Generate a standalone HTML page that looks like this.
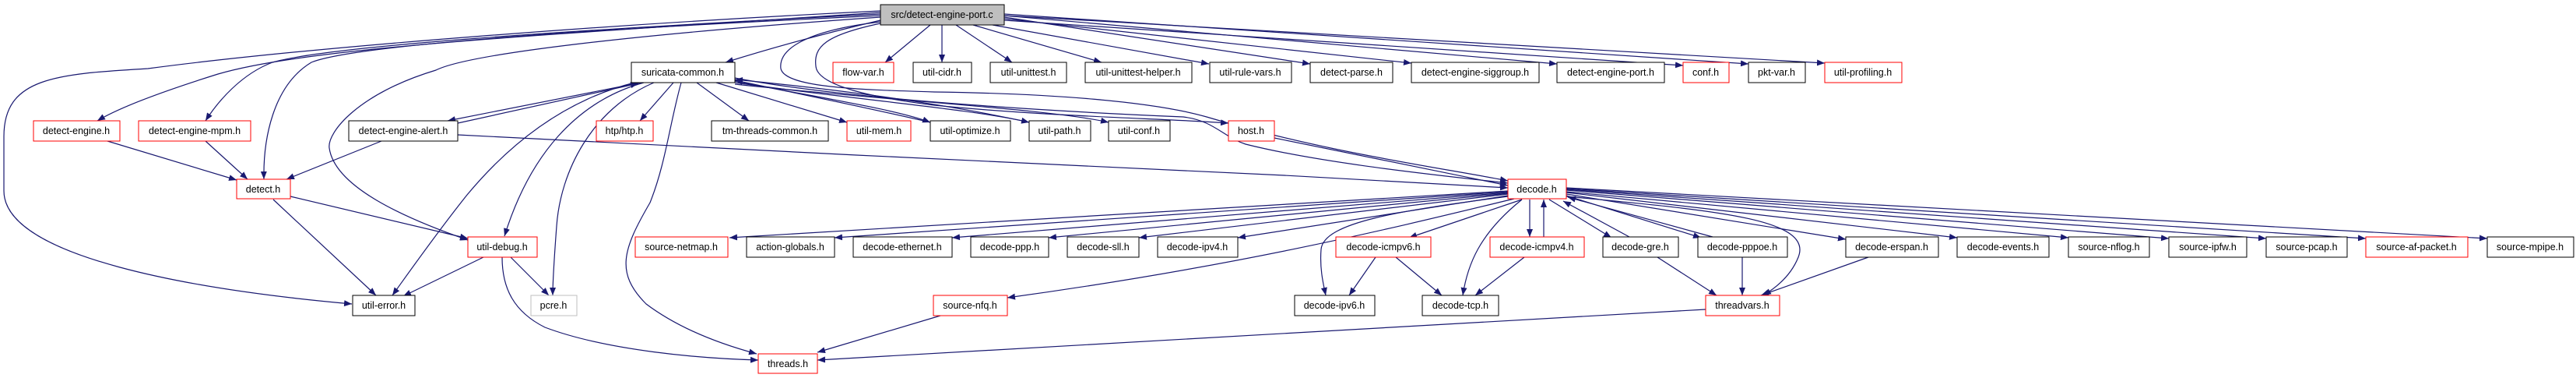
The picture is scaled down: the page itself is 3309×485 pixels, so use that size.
<!DOCTYPE html>
<html><head><meta charset="utf-8"><style>
html,body{margin:0;padding:0;background:#fff;}
svg{display:block;}
text{font-family:"Liberation Sans",Arial,sans-serif;font-size:12.5px;fill:#000;text-anchor:middle;}
.e{fill:none;stroke:#191970;stroke-width:1.2;}
.b{fill:#fff;stroke:#000;stroke-width:1;}
.r{fill:#fff;stroke:#ff0000;stroke-width:1;}
</style></head><body>
<svg width="3309" height="485" viewBox="0 0 3309 485" xmlns="http://www.w3.org/2000/svg">
<defs><marker id="a" markerUnits="userSpaceOnUse" markerWidth="11" markerHeight="8" refX="10" refY="4" orient="auto"><path d="M0,0 L10,4 L0,8 z" fill="#191970"/></marker></defs>
<g class="e" marker-end="url(#a)">
<!-- from src -->
<path d="M1131,14 C800,30 400,60 190,88 C70,95 5,100 5,175 L5,245 C5,330 250,372 452,390"/>
<path d="M1131,16 C700,45 400,60 280,95 C200,120 150,140 125,155"/>
<path d="M1131,18 C700,40 420,60 350,80 C310,95 280,130 264,155"/>
<path d="M1131,20 C700,40 450,60 400,80 C350,110 338,180 339,230"/>
<path d="M1131,22 C800,45 600,70 560,90 C460,120 420,170 423,190 C430,240 520,280 601,308"/>
<path d="M1131,26 C1050,45 980,65 932,80"/>
<path d="M1131,28 C1030,40 1000,65 1003,88 C1008,112 1100,115 1200,118 C1350,120 1480,130 1550,150 C1700,195 1850,215 1937,232"/>
<path d="M1131,30 C1060,45 1045,60 1048,85 C1050,110 1120,125 1200,135 C1350,150 1500,152 1578,158"/>
<path d="M1195,32 L1137,80"/>
<path d="M1210,32 L1210,80"/>
<path d="M1228,32 L1300,80"/>
<path d="M1250,32 L1415,80"/>
<path d="M1275,32 L1553,82"/>
<path d="M1290,22 L1683,82"/>
<path d="M1290,24 L1813,81"/>
<path d="M1290,20 L2000,82"/>
<path d="M1290,26 L2162,84"/>
<path d="M1290,18 L2246,82"/>
<path d="M1290,20 L2344,81"/>
<!-- suricata-common -->
<path d="M823,106 L575,155"/>
<path d="M588,158 L820,107"/>
<path d="M827,106 C740,130 680,200 648,303"/>
<path d="M815,106 C720,130 650,190 600,250 C560,300 525,350 504,379"/>
<path d="M840,106 C760,140 720,220 715,290 C712,330 710,360 710,379"/>
<path d="M875,106 C860,160 855,210 835,260 C800,320 790,350 830,390 C870,420 920,440 972,454"/>
<path d="M865,106 L822,155"/>
<path d="M895,106 L962,155"/>
<path d="M920,106 L1088,157"/>
<path d="M944,104 C1050,125 1150,140 1195,157"/>
<path d="M944,106 C1100,128 1250,140 1322,157"/>
<path d="M944,108 C1150,130 1350,140 1424,157"/>
<path d="M1195,157 C1100,135 1000,115 944,103"/>
<path d="M1322,157 C1200,130 1050,112 944,102"/>
<path d="M944,100 C1100,130 1400,145 1520,150 C1560,155 1570,175 1600,185 C1700,210 1850,225 1937,235"/>
<path d="M1637,177 L1937,238"/>
<path d="M588,173 L1100,199 L1650,225 L1937,241"/>
<!-- detect -->
<path d="M138,181 L304,231"/>
<path d="M264,181 L318,230"/>
<path d="M490,181 L368,230"/>
<path d="M351,256 L483,379"/>
<path d="M373,252 L601,306"/>
<path d="M621,330 L518,380"/>
<path d="M656,330 L705,379"/>
<path d="M645,330 C645,370 660,400 700,420 C780,450 900,460 974,462"/>
<path d="M1208,405 L1050,452"/>
<path d="M2191,397 L1050,462"/>
<!-- decode fan -->
<path d="M1937,245 L937,305"/>
<path d="M1937,246 L1072,305"/>
<path d="M1937,247 L1223,305"/>
<path d="M1937,248 L1347,305"/>
<path d="M1937,249 L1463,305"/>
<path d="M1937,251 L1590,305"/>
<path d="M1945,255 C1800,290 1600,340 1294,382"/>
<path d="M1937,252 C1800,270 1700,285 1697,320 C1695,345 1700,365 1703,379"/>
<path d="M1955,256 L1810,305"/>
<path d="M1955,256 C1900,300 1885,340 1879,379"/>
<path d="M1965,256 L1965,304"/>
<path d="M1983,304 L1983,256"/>
<path d="M1990,256 L2070,305"/>
<path d="M2093,304 L2008,258"/>
<path d="M2012,251 L2185,305"/>
<path d="M2200,304 L2014,253"/>
<path d="M2012,249 L2371,307"/>
<path d="M2012,247 L2514,305"/>
<path d="M2012,246 L2657,305"/>
<path d="M2012,244 L2786,306"/>
<path d="M2012,243 L2911,306"/>
<path d="M2012,242 L3039,306"/>
<path d="M2012,241 L3195,306"/>
<path d="M2012,252 C2200,270 2330,280 2310,330 C2300,355 2280,370 2265,379"/>
<path d="M1767,330 L1733,379"/>
<path d="M1793,330 L1852,379"/>
<path d="M1958,330 L1895,379"/>
<path d="M2129,330 L2205,379"/>
<path d="M2238,330 L2238,379"/>
<path d="M2400,330 L2262,379"/>
</g>
<!-- nodes -->
<rect x="1131" y="6" width="159" height="26" fill="#bfbfbf" stroke="#000"/><text x="1210" y="23">src/detect-engine-port.c</text>
<rect class="b" x="811" y="80" width="133" height="26"/><text x="877" y="97">suricata-common.h</text>
<rect class="r" x="1070" y="80" width="78" height="26"/><text x="1109" y="97">flow-var.h</text>
<rect class="b" x="1173" y="80" width="75" height="26"/><text x="1210" y="97">util-cidr.h</text>
<rect class="b" x="1272" y="80" width="98" height="26"/><text x="1321" y="97">util-unittest.h</text>
<rect class="b" x="1394" y="80" width="137" height="26"/><text x="1462" y="97">util-unittest-helper.h</text>
<rect class="b" x="1554" y="80" width="105" height="26"/><text x="1606" y="97">util-rule-vars.h</text>
<rect class="b" x="1683" y="80" width="106" height="26"/><text x="1736" y="97">detect-parse.h</text>
<rect class="b" x="1813" y="80" width="164" height="26"/><text x="1895" y="97">detect-engine-siggroup.h</text>
<rect class="b" x="2000" y="80" width="138" height="26"/><text x="2069" y="97">detect-engine-port.h</text>
<rect class="r" x="2162" y="80" width="59" height="26"/><text x="2191" y="97">conf.h</text>
<rect class="b" x="2246" y="80" width="73" height="26"/><text x="2282" y="97">pkt-var.h</text>
<rect class="r" x="2344" y="80" width="99" height="26"/><text x="2393" y="97">util-profiling.h</text>

<rect class="r" x="43" y="155" width="111" height="26"/><text x="98" y="172">detect-engine.h</text>
<rect class="r" x="178" y="155" width="144" height="26"/><text x="250" y="172">detect-engine-mpm.h</text>
<rect class="b" x="448" y="155" width="140" height="26"/><text x="518" y="172">detect-engine-alert.h</text>
<rect class="r" x="766" y="155" width="73" height="26"/><text x="802" y="172">htp/htp.h</text>
<rect class="b" x="914" y="155" width="150" height="26"/><text x="989" y="172">tm-threads-common.h</text>
<rect class="r" x="1088" y="155" width="82" height="26"/><text x="1129" y="172">util-mem.h</text>
<rect class="b" x="1195" y="155" width="103" height="26"/><text x="1246" y="172">util-optimize.h</text>
<rect class="b" x="1322" y="155" width="79" height="26"/><text x="1361" y="172">util-path.h</text>
<rect class="b" x="1424" y="155" width="79" height="26"/><text x="1463" y="172">util-conf.h</text>
<rect class="r" x="1578" y="155" width="59" height="26"/><text x="1607" y="172">host.h</text>

<rect class="r" x="304" y="230" width="69" height="25"/><text x="338" y="247">detect.h</text>
<rect class="r" x="1937" y="230" width="75" height="25"/><text x="1974" y="247">decode.h</text>

<rect class="r" x="601" y="304" width="89" height="26"/><text x="645" y="321">util-debug.h</text>
<rect class="r" x="816" y="304" width="119" height="26"/><text x="875" y="321">source-netmap.h</text>
<rect class="b" x="959" y="304" width="113" height="26"/><text x="1015" y="321">action-globals.h</text>
<rect class="b" x="1096" y="304" width="127" height="26"/><text x="1159" y="321">decode-ethernet.h</text>
<rect class="b" x="1247" y="304" width="100" height="26"/><text x="1297" y="321">decode-ppp.h</text>
<rect class="b" x="1371" y="304" width="92" height="26"/><text x="1417" y="321">decode-sll.h</text>
<rect class="b" x="1487" y="304" width="103" height="26"/><text x="1538" y="321">decode-ipv4.h</text>
<rect class="r" x="1716" y="304" width="122" height="26"/><text x="1777" y="321">decode-icmpv6.h</text>
<rect class="r" x="1914" y="304" width="121" height="26"/><text x="1974" y="321">decode-icmpv4.h</text>
<rect class="b" x="2059" y="304" width="97" height="26"/><text x="2107" y="321">decode-gre.h</text>
<rect class="b" x="2181" y="304" width="115" height="26"/><text x="2238" y="321">decode-pppoe.h</text>
<rect class="b" x="2371" y="304" width="119" height="26"/><text x="2430" y="321">decode-erspan.h</text>
<rect class="b" x="2514" y="304" width="118" height="26"/><text x="2573" y="321">decode-events.h</text>
<rect class="b" x="2657" y="304" width="104" height="26"/><text x="2709" y="321">source-nflog.h</text>
<rect class="b" x="2786" y="304" width="100" height="26"/><text x="2836" y="321">source-ipfw.h</text>
<rect class="b" x="2911" y="304" width="104" height="26"/><text x="2963" y="321">source-pcap.h</text>
<rect class="r" x="3039" y="304" width="131" height="26"/><text x="3104" y="321">source-af-packet.h</text>
<rect class="b" x="3195" y="304" width="111" height="26"/><text x="3250" y="321">source-mpipe.h</text>

<rect class="b" x="453" y="379" width="80" height="26"/><text x="493" y="396">util-error.h</text>
<rect x="682" y="379" width="59" height="26" fill="#fff" stroke="#bfbfbf"/><text x="711" y="396">pcre.h</text>
<rect class="r" x="1199" y="379" width="95" height="26"/><text x="1246" y="396">source-nfq.h</text>
<rect class="b" x="1663" y="379" width="103" height="26"/><text x="1714" y="396">decode-ipv6.h</text>
<rect class="b" x="1827" y="379" width="98" height="26"/><text x="1876" y="396">decode-tcp.h</text>
<rect class="r" x="2191" y="379" width="95" height="26"/><text x="2238" y="396">threadvars.h</text>

<rect class="r" x="974" y="454" width="76" height="25"/><text x="1012" y="471">threads.h</text>
</svg>
</body></html>
